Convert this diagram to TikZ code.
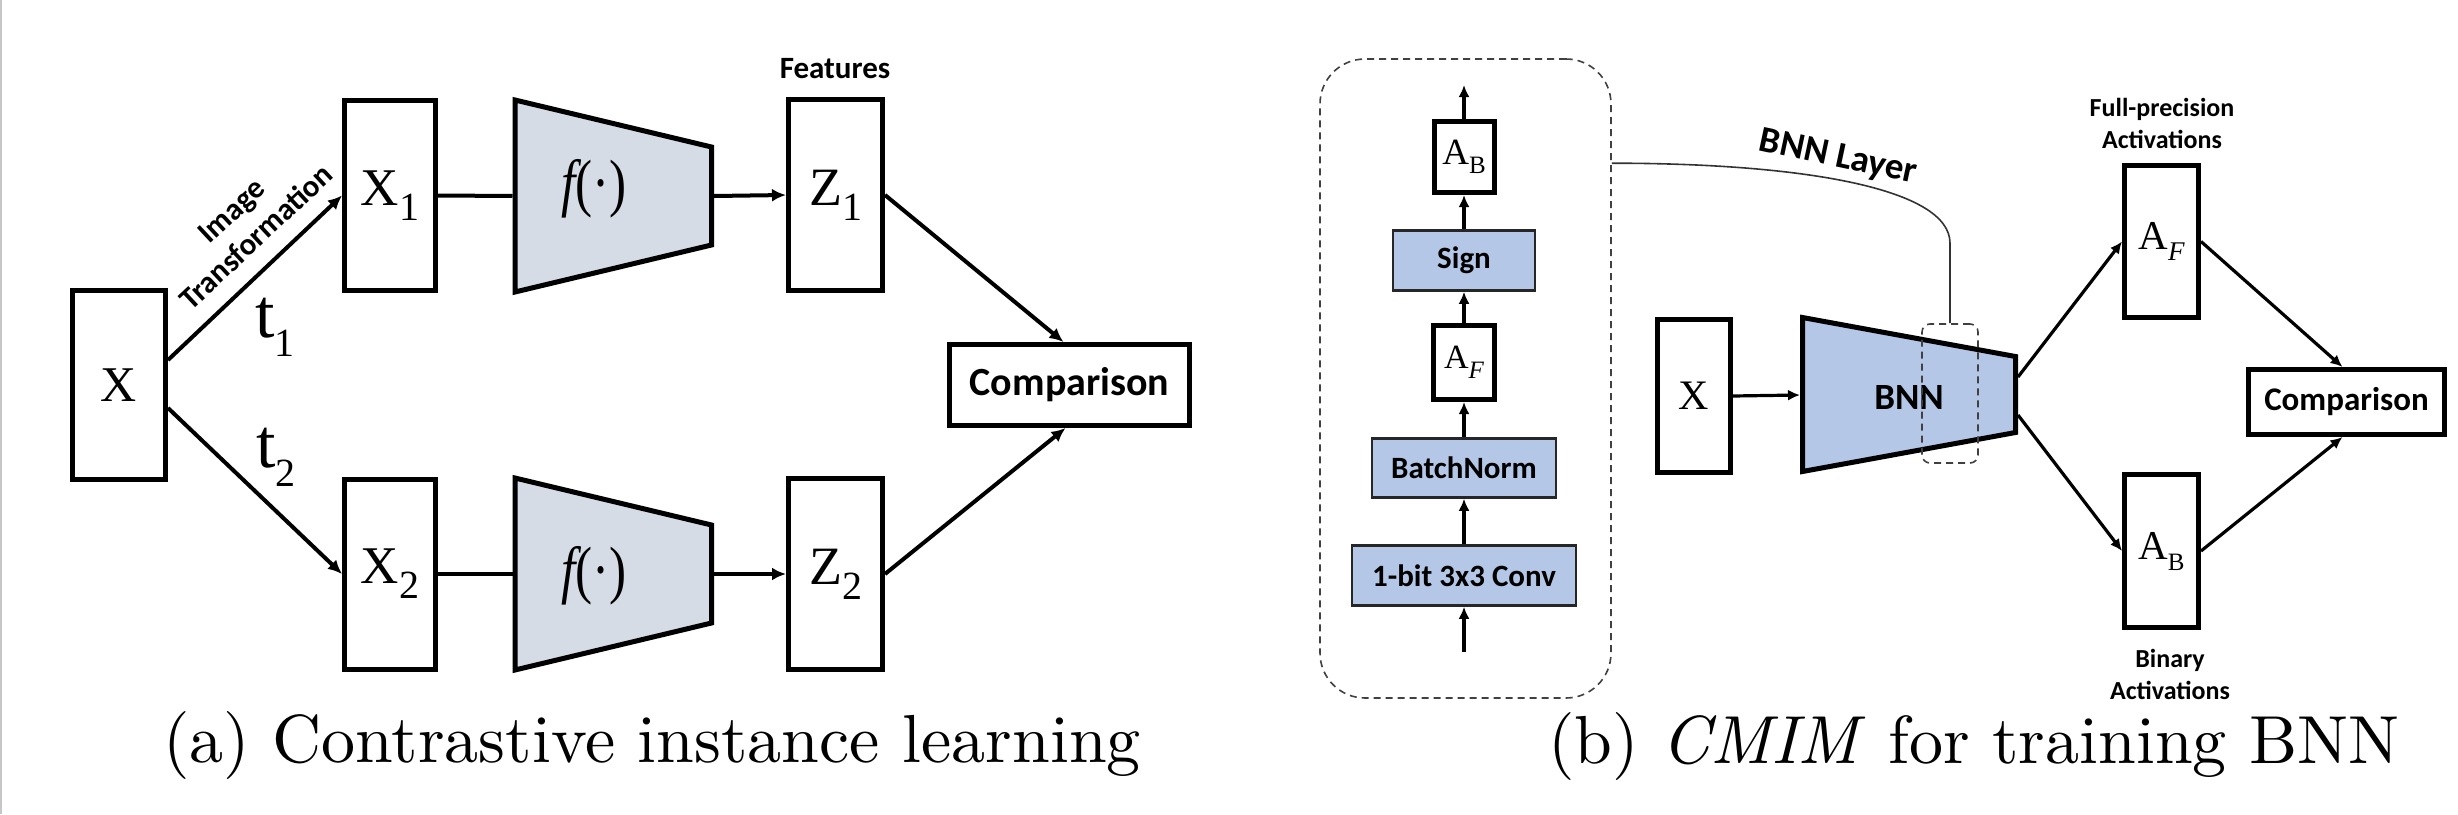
\documentclass[tikz,border=0pt]{standalone}
\usepackage{fontspec}
\usetikzlibrary{arrows.meta,calc}
\newfontfamily\tnr{Liberation Serif}
\newfontfamily\calib{Carlito}
\newfontfamily\lmten{lmroman10-regular}[Extension=.otf,ItalicFont=lmroman10-italic]
\definecolor{fgray}{HTML}{D6DCE5}
\definecolor{bblue}{HTML}{B4C7E7}
\newcommand\fs[1]{\fontsize{#1}{#1}\selectfont}
\newcommand\lbl[5]{{\tnr\fs{#1}#2\raisebox{-#5pt}{\fs{#3}#4}}}
\begin{document}
\begin{tikzpicture}[x=1pt,y=-1pt,
  box/.style={draw=black,line width=5pt,inner sep=0pt},
  bbox/.style={draw=black!85,line width=2.5pt,fill=bblue,inner sep=0pt},
  arr/.style={line width=4pt,-{Latex[length=14pt,width=13pt]}},
  arrb/.style={line width=3.2pt,-{Latex[length=12pt,width=11pt]}},
  thinline/.style={line width=1.6pt,draw=black!80},
  dbox/.style={draw=black!75,line width=1.6pt,dash pattern=on 7pt off 5pt,inner sep=0pt},
  sansb/.style={font=\calib\bfseries\fs{#1}},
]
\useasboundingbox (0,0) rectangle (2458,814);
\draw[gray!45,line width=2pt] (1,0) -- (1,814);

% ---------------- (a) ----------------
\node[box,minimum width=93pt,minimum height=189pt] (xa) at (119,385) {{\tnr\fs{50}X}};
\node[box,minimum width=91pt,minimum height=190pt] (x1) at (390,195.5) {\lbl{53}{X}{40}{1}{15}};
\node[box,minimum width=91pt,minimum height=190pt] (x2) at (390,574) {\lbl{53}{X}{40}{2}{15}};
\node[box,minimum width=94pt,minimum height=191pt] (z1) at (835.5,195) {\lbl{54}{Z}{40}{1}{15}};
\node[box,minimum width=94pt,minimum height=191pt] (z2) at (835.5,574) {\lbl{54}{Z}{40}{2}{15}};
\node[box,minimum width=240pt,minimum height=81pt,sansb=40] (cmpa) at (1069.5,385) {Comparison};

\draw[line width=5pt,fill=fgray] (515,100) -- (711.5,147) -- (711.5,245) -- (515,292) -- cycle;
\draw[line width=5pt,fill=fgray] (515,478) -- (711.5,525) -- (711.5,623) -- (515,670) -- cycle;
\coordinate (f1w) at (512.5,196);
\coordinate (f1e) at (714,196);
\coordinate (f2w) at (512.5,574);
\coordinate (f2e) at (714,574);
\node (f1) at (594,189) {\scalebox{0.8}[1]{\tnr\fs{64}\itshape f\upshape(·)}};
\node (f2) at (594,576) {\scalebox{0.8}[1]{\tnr\fs{64}\itshape f\upshape(·)}};

\draw[arr] ($(xa.east)+(0,-25)$) -- (x1.west);
\draw[arr] ($(xa.east)+(0,23)$) -- (x2.west);
\draw[line width=4pt] (x1.east) -- (f1w);
\draw[arr] (f1e) -- (z1.west);
\draw[line width=4pt] (x2.east) -- (f2w);
\draw[arr] (f2e) -- (z2.west);
\draw[arr] (z1.east) -- ($(cmpa.north)+(-6,0)$);
\draw[arr] (z2.east) -- ($(cmpa.south)+(-4,0)$);

\node (t1) at (275,327) {\lbl{70}{t}{40}{1}{19}};
\node (t2) at (276,457) {\lbl{70}{t}{40}{2}{19}};
\node[rotate=43,align=center,font=\calib\bfseries\fontsize{31}{36}\selectfont] (imgtf) at (244,224) {Image\\Transformation};
\node[sansb=31] (feat) at (835,69) {Features};

\node[anchor=base,font=\lmten\fontsize{68}{80}\selectfont] (capa) at (652,762) {(a) Contrastive instance learning};

% ---------------- (b) ----------------
\node[dbox,rounded corners=45pt,minimum width=291pt,minimum height=639pt] (blk) at (1465.5,378.5) {};
\node[box,minimum width=60pt,minimum height=71pt] (ab1) at (1464,157) {\lbl{37}{A}{25}{B}{9}};
\node[bbox,minimum width=142pt,minimum height=60pt,sansb=31] (sign) at (1464,260.5) {Sign};
\node[box,minimum width=61pt,minimum height=74pt] (af1) at (1464,362.5) {{\tnr\fs{34}A\raisebox{-10pt}{\fs{25}\itshape F}}};
\node[bbox,minimum width=184pt,minimum height=59pt,sansb=31] (bn) at (1464,468) {BatchNorm};
\node[bbox,minimum width=224pt,minimum height=60pt,sansb=31] (conv) at (1464,575.5) {1-bit 3x3 Conv};
\coordinate (in0) at (1464,652);
\coordinate (out0) at (1464,85);
\draw[arrb] (in0) -- (conv.south);
\draw[arrb] (conv.north) -- (bn.south);
\draw[arrb] (bn.north) -- (af1.south);
\draw[arrb] (af1.north) -- (sign.south);
\draw[arrb] (sign.north) -- (ab1.south);
\draw[arrb] (ab1.north) -- (out0);

\node[box,minimum width=73pt,minimum height=153pt] (xb) at (1694,396) {{\tnr\fs{42}X}};
\draw[line width=5pt,fill=bblue] (1802.5,317.5) -- (2015.5,356.5) -- (2015.5,432.5) -- (1802.5,471.5) -- cycle;
\coordinate (bnnw) at (1800,395);
\coordinate (bnne) at (2018,395);
\node[sansb=37] (bnn) at (1909,397) {BNN};
\node[dbox,rounded corners=8pt,minimum width=56pt,minimum height=139pt] (lay) at (1950,393.5) {};
\coordinate (s) at ($(blk.north east)+(0,105)$);
\draw[thinline] (s) .. controls ($(s)+(190,0)$) and ($(lay.north)+(0,-135)$) .. ($(lay.north)+(0,-80)$) -- (lay.north);
\node[rotate=-12,sansb=37] (bnnl) at (1838,158) {BNN Layer};

\node[box,minimum width=74pt,minimum height=152pt] (af2) at (2161.5,241.5) {{\tnr\fs{41}A\raisebox{-11pt}{\fs{27}\itshape F}}};
\node[box,minimum width=74pt,minimum height=153pt] (ab2) at (2161.5,551) {\lbl{41}{A}{25}{B}{11}};
\node[box,minimum width=196pt,minimum height=65pt,sansb=33] (cmpb) at (2346.5,402) {Comparison};

\draw[arrb] (xb.east) -- (bnnw);
\draw[arrb] ($(bnne)+(0,-18)$) -- (af2.west);
\draw[arrb] ($(bnne)+(0,20)$) -- (ab2.west);
\draw[arrb] (af2.east) -- ($(cmpb.north)+(-4,0)$);
\draw[arrb] (ab2.east) -- ($(cmpb.south)+(-4,0)$);

\node[align=center,font=\calib\bfseries\fontsize{26}{32}\selectfont] (fpa) at (2162,123) {Full-precision\\Activations};
\node[align=center,font=\calib\bfseries\fontsize{26}{32}\selectfont] (bia) at (2170,674) {Binary\\Activations};

\node[anchor=base,font=\lmten\fontsize{68}{80}\selectfont] (capb) at (1974,763) {(b) \textit{CMIM} for training BNN};
\end{tikzpicture}
\end{document}
